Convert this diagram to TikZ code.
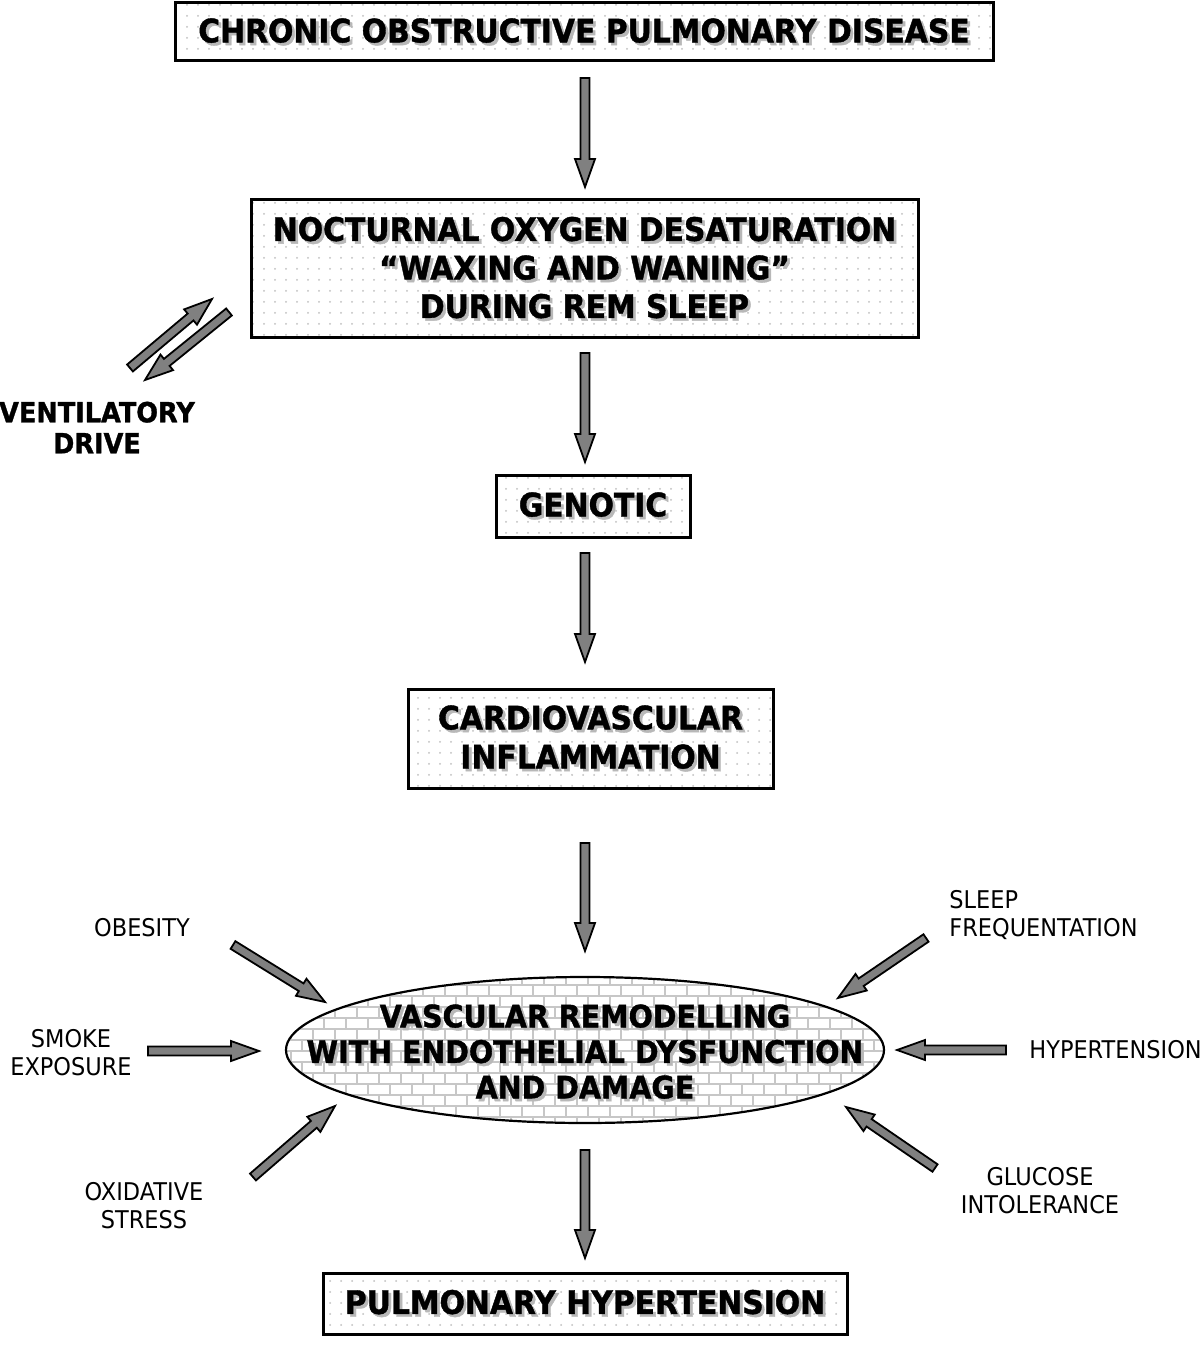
\documentclass[tikz,border=0pt]{standalone}
\usepackage{fontspec}
\setmainfont{DejaVu Sans}[FakeStretch=0.92, BoldFeatures={FakeBold=1.2}]
\usetikzlibrary{calc,patterns.meta}
\newcommand\shd[1]{\leavevmode\rlap{\kern1.4pt\raisebox{-1.4pt}{\textcolor{black!28}{#1}}}#1}
\newcommand\blockarr[2]{%
  \coordinate (hb) at ($(#2)!14pt!(#1)$);
  \filldraw[blockarrow] ($(#1)!2.25pt!90:(#2)$) -- ($(hb)!2.25pt!90:(#2)$) -- ($(hb)!5pt!90:(#2)$) -- (#2) -- ($(hb)!5pt!-90:(#2)$) -- ($(hb)!2.25pt!-90:(#2)$) -- ($(#1)!2.25pt!-90:(#2)$) -- cycle;}
\tikzset{
  blockarrow/.style={fill=black!50, draw=black, line width=0.9pt, line join=miter},
  dotbox/.style={draw=black, line width=1.5pt, pattern={Dots[distance=5.5pt,radius=0.5pt]}, pattern color=black!25, inner sep=0pt, align=center, font=\bfseries\fontsize{16.2}{19.25}\selectfont},
  plainlbl/.style={align=center, inner sep=0pt, font=\fontsize{12.2}{14}\selectfont},
  mortar/.style={draw=black!22, line width=0.6pt},
}
\begin{document}
\begin{tikzpicture}[x=0.5pt, y=-0.5pt]
\fill[white] (0,0) rectangle (1200,1347);
\useasboundingbox (0,0) rectangle (1200,1347);

% boxes
\node[dotbox, minimum width=409pt, minimum height=29pt] (cop) at (584,32) {\shd{CHRONIC OBSTRUCTIVE PULMONARY DISEASE}};
\node[dotbox, minimum width=333.5pt, minimum height=69pt] (nod) at (584.5,269) {\shd{NOCTURNAL OXYGEN DESATURATION}\\\shd{“WAXING AND WANING”}\\\shd{DURING REM SLEEP}};
\node[dotbox, minimum width=97pt, minimum height=31pt] (gen) at (593,506) {\shd{GENOTIC}};
\node[dotbox, minimum width=182.5pt, minimum height=49.5pt, font=\bfseries\fontsize{16.2}{19.5}\selectfont] (cvi) at (590.5,738.5) {\shd{CARDIOVASCULAR}\\\shd{INFLAMMATION}};
\node[dotbox, minimum width=262pt, minimum height=30.5pt] (ph) at (585,1303.5) {\shd{PULMONARY HYPERTENSION}};

% ellipse with brick texture
\coordinate (vrc) at (585,1050);
\begin{scope}
  \clip (vrc) ellipse [x radius=149.5pt, y radius=36.5pt];
  \foreach \r in {0,...,14}{
    \pgfmathsetmacro\yy{974+11*\r}
    \pgfmathsetmacro\off{mod(\r,2)*11}
    \draw[mortar] (280,\yy) -- (890,\yy);
    \foreach \c in {0,...,28}{
      \draw[mortar] ({280+\off+22*\c},\yy) -- ++(0,11);
    }
  }
\end{scope}
\draw[line width=1.1pt] (vrc) ellipse [x radius=149.5pt, y radius=36.5pt];
\node[align=center, inner sep=0pt, font=\bfseries\fontsize{15.5}{17.75}\selectfont] (vr) at (585,1053) {\shd{VASCULAR REMODELLING}\\\shd{WITH ENDOTHELIAL DYSFUNCTION}\\\shd{AND DAMAGE}};

% labels
\node[plainlbl, font=\bfseries\fontsize{13.9}{15.5}\selectfont] (vd) at (97,427.5) {VENTILATORY\\DRIVE};
\node[plainlbl] (ob) at (142,928) {OBESITY};
\node[plainlbl] (sm) at (71,1053) {SMOKE\\EXPOSURE};
\node[plainlbl] (ox) at (144,1206) {OXIDATIVE\\STRESS};
\node[plainlbl, anchor=west, align=left] (sl) at (949,915) {SLEEP\\FREQUENTATION};
\node[plainlbl, anchor=west] (hy) at (1029,1050) {HYPERTENSION};
\node[plainlbl] (gl) at (1040,1190.5) {GLUCOSE\\INTOLERANCE};

% arrow end points
\coordinate (a1s) at (585,78);   \coordinate (a1e) at (585,187);
\coordinate (a2s) at (585,353);  \coordinate (a2e) at (585,462);
\coordinate (a3s) at (585,553);  \coordinate (a3e) at (585,662);
\coordinate (a4s) at (585,843);  \coordinate (a4e) at (585,951);
\coordinate (a5s) at (585,1150); \coordinate (a5e) at (585,1258);
\coordinate (vus) at (130,368);  \coordinate (vue) at (212,299);
\coordinate (vds) at (229,312);  \coordinate (vde) at (145,380);
\coordinate (obs) at (233,945);  \coordinate (obe) at (325,1002);
\coordinate (sms) at (148,1051); \coordinate (sme) at (259,1051);
\coordinate (oxs) at (253,1177); \coordinate (oxe) at (335,1106);
\coordinate (sls) at (926,938);  \coordinate (sle) at (838,998);
\coordinate (hys) at (1006,1050); \coordinate (hye) at (897,1050);
\coordinate (gls) at (935,1168); \coordinate (gle) at (846,1107);

\blockarr{a1s}{a1e}
\blockarr{a2s}{a2e}
\blockarr{a3s}{a3e}
\blockarr{a4s}{a4e}
\blockarr{a5s}{a5e}
\blockarr{vus}{vue}
\blockarr{vds}{vde}
\blockarr{obs}{obe}
\blockarr{sms}{sme}
\blockarr{oxs}{oxe}
\blockarr{sls}{sle}
\blockarr{hys}{hye}
\blockarr{gls}{gle}
\end{tikzpicture}
\end{document}
